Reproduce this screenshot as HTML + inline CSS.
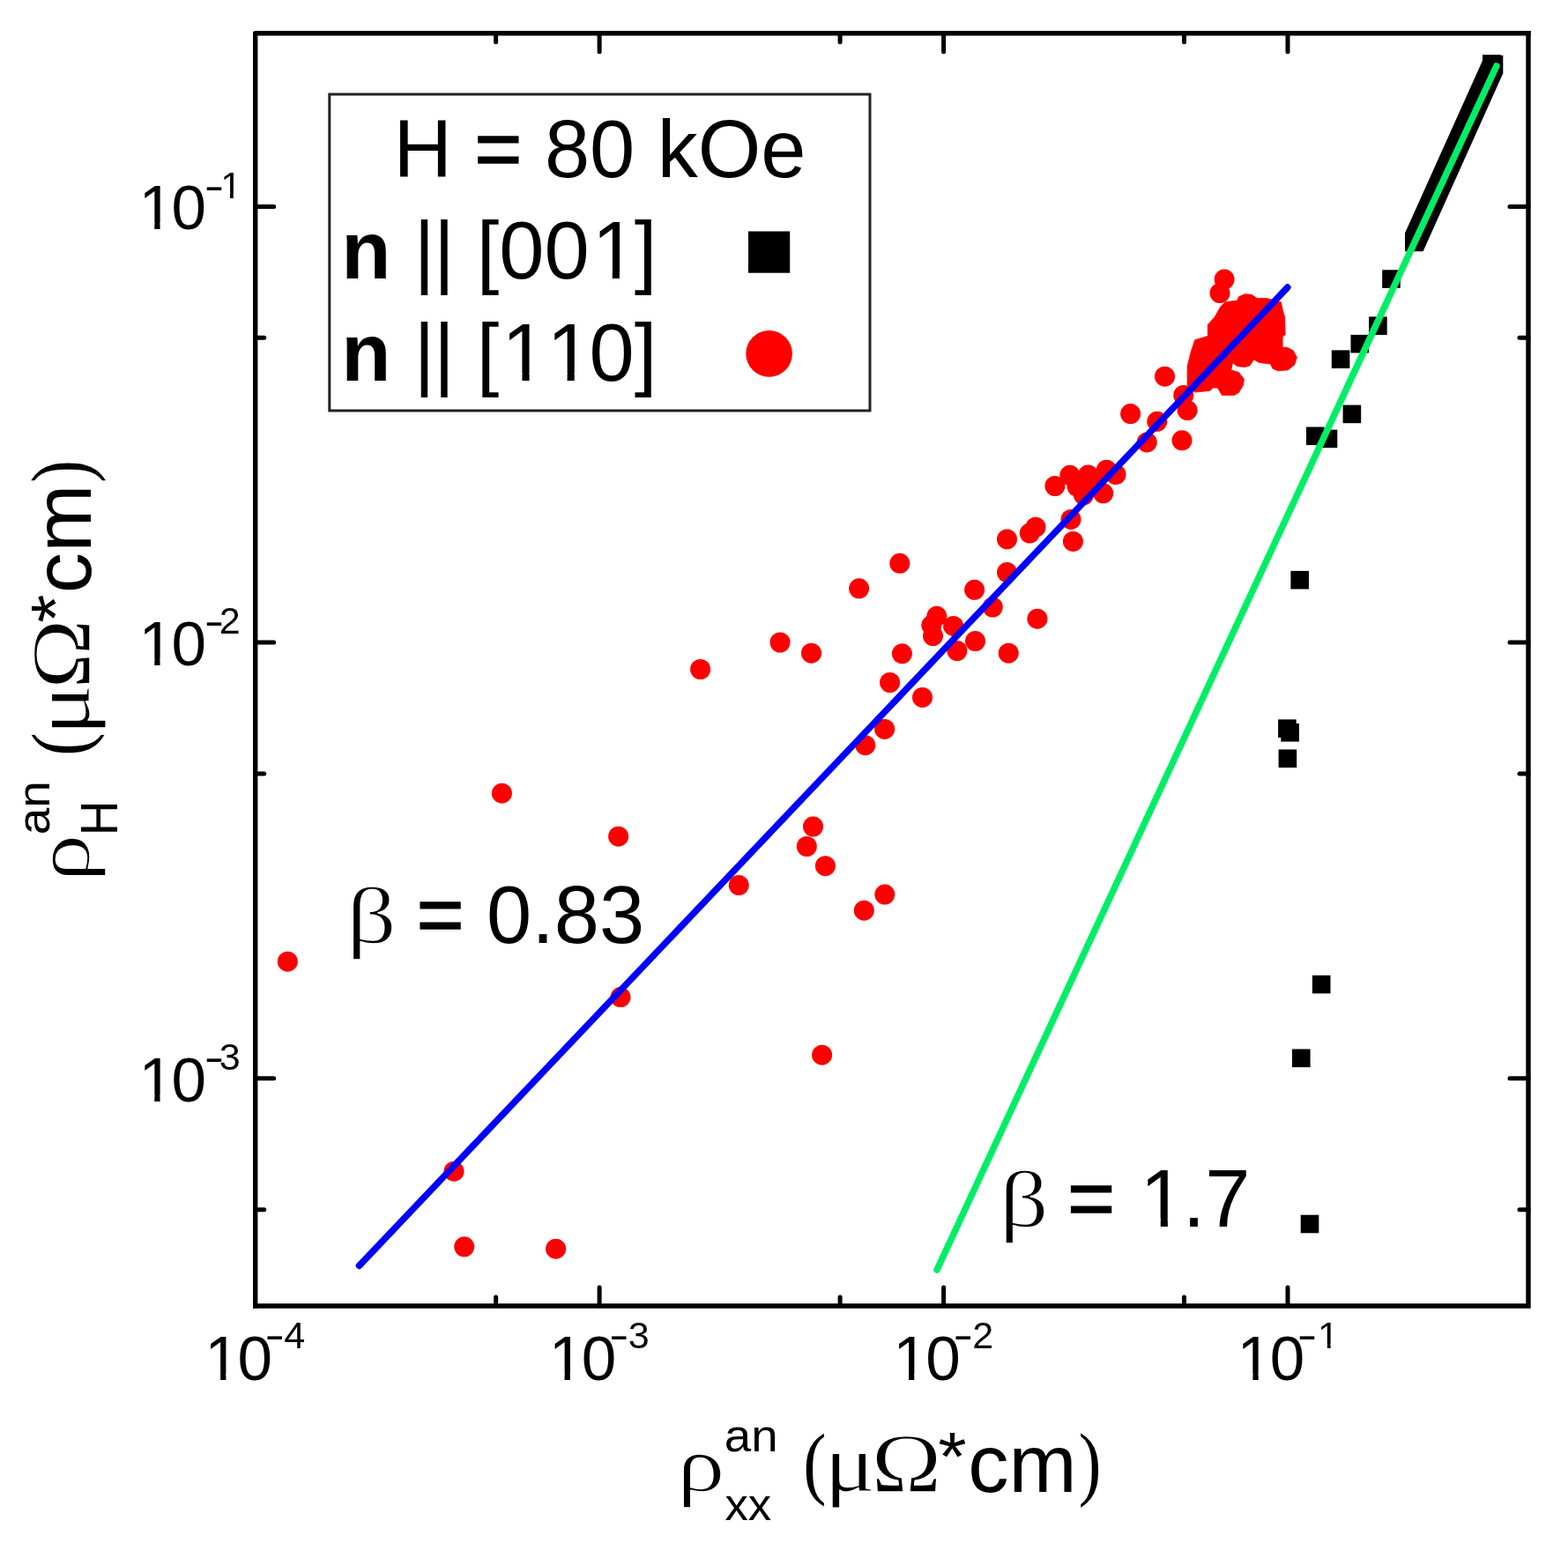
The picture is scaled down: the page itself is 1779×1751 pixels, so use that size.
<!DOCTYPE html><html><head><meta charset="utf-8"><title>Anomalous Hall resistivity vs longitudinal resistivity</title>
<style>html,body{margin:0;padding:0;background:#fff;overflow:hidden}svg{display:block}text{font-family:'Liberation Sans',Arial,sans-serif;fill:#000;font-kerning:none;font-feature-settings:'kern' 0}</style></head><body>
<svg xmlns="http://www.w3.org/2000/svg" width="1779" height="1751" viewBox="0 0 1779 1751">
<rect width="1779" height="1751" fill="#fff"/>
<g fill="#ff0000">
<circle cx="326.3" cy="1091.2" r="11.5"/>
<circle cx="515.0" cy="1329.2" r="11.5"/>
<circle cx="526.7" cy="1414.8" r="11.5"/>
<circle cx="630.6" cy="1417.2" r="11.5"/>
<circle cx="569.4" cy="900.2" r="11.5"/>
<circle cx="701.6" cy="949.2" r="11.5"/>
<circle cx="704.0" cy="1131.6" r="11.5"/>
<circle cx="794.6" cy="759.5" r="11.5"/>
<circle cx="885.0" cy="729.0" r="11.5"/>
<circle cx="920.5" cy="741.2" r="11.5"/>
<circle cx="922.5" cy="938.0" r="11.5"/>
<circle cx="915.3" cy="960.5" r="11.5"/>
<circle cx="936.4" cy="982.7" r="11.5"/>
<circle cx="838.2" cy="1004.6" r="11.5"/>
<circle cx="980.3" cy="1033.2" r="11.5"/>
<circle cx="1003.8" cy="1015.1" r="11.5"/>
<circle cx="932.6" cy="1197.2" r="11.5"/>
<circle cx="981.7" cy="845.7" r="11.5"/>
<circle cx="1003.6" cy="827.4" r="11.5"/>
<circle cx="1046.5" cy="791.4" r="11.5"/>
<circle cx="1009.6" cy="774.5" r="11.5"/>
<circle cx="974.6" cy="667.8" r="11.5"/>
<circle cx="1020.8" cy="639.3" r="11.5"/>
<circle cx="1105.6" cy="669.3" r="11.5"/>
<circle cx="1142.5" cy="649.6" r="11.5"/>
<circle cx="1142.5" cy="611.9" r="11.5"/>
<circle cx="1168.2" cy="605.1" r="11.5"/>
<circle cx="1175.0" cy="598.2" r="11.5"/>
<circle cx="1215.0" cy="589.4" r="11.5"/>
<circle cx="1217.4" cy="614.4" r="11.5"/>
<circle cx="1126.2" cy="689.0" r="11.5"/>
<circle cx="1176.9" cy="702.2" r="11.5"/>
<circle cx="1062.8" cy="699.3" r="11.5"/>
<circle cx="1056.8" cy="709.6" r="11.5"/>
<circle cx="1081.6" cy="710.4" r="11.5"/>
<circle cx="1058.5" cy="721.6" r="11.5"/>
<circle cx="1106.5" cy="727.6" r="11.5"/>
<circle cx="1085.9" cy="738.5" r="11.5"/>
<circle cx="1144.2" cy="741.2" r="11.5"/>
<circle cx="1023.4" cy="741.8" r="11.5"/>
<circle cx="1196.9" cy="551.5" r="11.5"/>
<circle cx="1213.8" cy="539.3" r="11.5"/>
<circle cx="1234.6" cy="539.0" r="11.5"/>
<circle cx="1255.4" cy="533.2" r="11.5"/>
<circle cx="1266.0" cy="538.5" r="11.5"/>
<circle cx="1251.7" cy="559.8" r="11.5"/>
<circle cx="1229.4" cy="561.8" r="11.5"/>
<circle cx="1222.0" cy="552.0" r="11.5"/>
<circle cx="1242.0" cy="548.0" r="11.5"/>
<circle cx="1282.6" cy="469.6" r="11.5"/>
<circle cx="1312.8" cy="478.3" r="11.5"/>
<circle cx="1301.2" cy="501.9" r="11.5"/>
<circle cx="1341.0" cy="499.8" r="11.5"/>
<circle cx="1347.1" cy="465.6" r="11.5"/>
<circle cx="1342.8" cy="448.5" r="11.5"/>
<circle cx="1321.5" cy="427.2" r="11.5"/>
<circle cx="1389.1" cy="317.1" r="11.5"/>
<circle cx="1384.0" cy="332.6" r="11.5"/>
<polygon points="1384.8,348.0 1390.0,342.8 1403.7,341.1 1405.4,336.8 1412.2,333.8 1420.0,334.3 1426.0,338.6 1437.1,338.6 1453.4,342.8 1455.1,351.4 1457.6,360.0 1458.1,379.7 1455.1,382.2 1455.1,394.2 1460.2,394.2 1467.1,397.7 1471.4,405.4 1468.8,413.9 1461.1,419.9 1449.9,420.8 1443.9,418.2 1441.4,413.1 1428.5,411.4 1422.5,407.9 1418.2,414.8 1412.2,416.5 1403.7,415.7 1398.5,411.4 1396.8,419.9 1405.4,422.5 1411.4,430.2 1410.5,437.1 1405.4,445.6 1400.2,448.5 1386.5,448.5 1381.4,440.0 1376.2,440.0 1372.8,443.4 1355.7,445.1 1347.1,437.1 1347.1,415.7 1351.4,398.5 1355.7,385.7 1370.3,381.4 1370.3,368.5 1378.0,360.0" stroke="#ff0000" stroke-width="0.8" stroke-linejoin="round"/>
</g>
<g fill="#000">
<rect x="1450.1" y="816.4" width="20.6" height="20.6"/>
<rect x="1453.3" y="821.0" width="20.6" height="20.6"/>
<rect x="1450.6" y="850.5" width="20.6" height="20.6"/>
<rect x="1464.4" y="647.9" width="20.6" height="20.6"/>
<rect x="1488.9" y="1106.8" width="20.6" height="20.6"/>
<rect x="1466.0" y="1190.5" width="20.6" height="20.6"/>
<rect x="1475.7" y="1378.7" width="20.6" height="20.6"/>
<rect x="1568.2" y="306.3" width="20.6" height="20.6"/>
<rect x="1553.1" y="359.4" width="20.6" height="20.6"/>
<rect x="1532.5" y="379.9" width="20.6" height="20.6"/>
<rect x="1510.8" y="397.4" width="20.6" height="20.6"/>
<rect x="1523.6" y="459.6" width="20.6" height="20.6"/>
<rect x="1482.0" y="484.5" width="20.6" height="20.6"/>
<rect x="1496.7" y="487.6" width="20.6" height="20.6"/>
<rect x="1682.0" y="62.2" width="20.6" height="20.6"/>
<polygon points="1594.0,285.2 1614.6,285.2 1705.3,83.3 1705.3,62.7 1684.7,62.7 1594.0,264.6"/>
</g>
<line x1="407.5" y1="1436.4" x2="1460.8" y2="326.1" stroke="#0000ff" stroke-width="7.5" stroke-linecap="round"/>
<line x1="1063.0" y1="1441.0" x2="1697.8" y2="75.0" stroke="#00ee66" stroke-width="7.5" stroke-linecap="round"/>
<g stroke="#000" fill="none">
<path d="M289.7 1482.0V37.8H1734.0" stroke-width="5.4" stroke-linejoin="round" stroke-linecap="square"/>
<path d="M1734.0 37.8V1482.0H289.7" stroke-width="5.4" stroke-linejoin="miter" stroke-linecap="square"/>
<path d="M680.1 1482.0V1461.0M680.1 37.8V58.8M1070.6 1482.0V1461.0M1070.6 37.8V58.8M1461.0 1482.0V1461.0M1461.0 37.8V58.8M562.6 1482.0V1472.0M562.6 37.8V47.8M953.1 1482.0V1472.0M953.1 37.8V47.8M1343.5 1482.0V1472.0M1343.5 37.8V47.8M289.7 234.4H310.7M1734.0 234.4H1713.0M289.7 729.1H310.7M1734.0 729.1H1713.0M289.7 1223.8H310.7M1734.0 1223.8H1713.0M289.7 383.3H299.7M1734.0 383.3H1724.0M289.7 878.0H299.7M1734.0 878.0H1724.0M289.7 1372.7H299.7M1734.0 1372.7H1724.0" stroke-width="5.0" stroke-linecap="round"/>
</g>
<text x="232.24" y="1566.00" font-size="71" clip-path="url(#c1_1)">1</text><text x="269.39" y="1566.00" font-size="71">0</text><text style="font-family:'Liberation Sans',Arial,sans-serif" font-size="43" transform="translate(300.50 1531.24) scale(1.5717 1.0716)">-</text><text x="322.30" y="1530.20" font-size="43">4</text>
<text x="622.69" y="1566.00" font-size="71" clip-path="url(#c1_2)">1</text><text x="659.84" y="1566.00" font-size="71">0</text><text style="font-family:'Liberation Sans',Arial,sans-serif" font-size="43" transform="translate(690.95 1531.24) scale(1.5717 1.0716)">-</text><text x="712.75" y="1530.20" font-size="43">3</text>
<text x="1013.14" y="1566.00" font-size="71" clip-path="url(#c1_3)">1</text><text x="1050.29" y="1566.00" font-size="71">0</text><text style="font-family:'Liberation Sans',Arial,sans-serif" font-size="43" transform="translate(1081.40 1531.24) scale(1.5717 1.0716)">-</text><text x="1103.20" y="1530.20" font-size="43">2</text>
<text x="1403.59" y="1566.00" font-size="71" clip-path="url(#c1_4)">1</text><text x="1440.74" y="1566.00" font-size="71">0</text><text style="font-family:'Liberation Sans',Arial,sans-serif" font-size="43" transform="translate(1471.85 1531.24) scale(1.5717 1.0716)">-</text><text x="1495.07" y="1530.20" font-size="43" clip-path="url(#c1_5)">1</text>
<text x="157.44" y="260.10" font-size="71" clip-path="url(#c1_6)">1</text><text x="194.59" y="260.10" font-size="71">0</text><text style="font-family:'Liberation Sans',Arial,sans-serif" font-size="43" transform="translate(231.80 226.64) scale(1.5717 1.0716)">-</text><text x="250.22" y="224.60" font-size="43" clip-path="url(#c1_7)">1</text>
<text x="157.44" y="754.80" font-size="71" clip-path="url(#c1_8)">1</text><text x="194.59" y="754.80" font-size="71">0</text><text style="font-family:'Liberation Sans',Arial,sans-serif" font-size="43" transform="translate(231.80 721.34) scale(1.5717 1.0716)">-</text><text x="248.80" y="719.30" font-size="43">2</text>
<text x="157.44" y="1249.50" font-size="71" clip-path="url(#c1_9)">1</text><text x="194.59" y="1249.50" font-size="71">0</text><text style="font-family:'Liberation Sans',Arial,sans-serif" font-size="43" transform="translate(231.80 1216.04) scale(1.5717 1.0716)">-</text><text x="248.80" y="1214.00" font-size="43">3</text>
<rect x="373.8" y="107.0" width="613.2" height="359.0" fill="none" stroke="#222" stroke-width="3.0"/>
<text x="446.60" y="201.00" font-size="92">H </text><text x="538.60" y="201.00" font-size="92" stroke="#000" stroke-width="1.66">=</text><text x="617.89" y="201.00" font-size="92">80 kOe</text>
<text x="387.30" y="316.30" font-size="92" font-weight="bold">n</text>
<text x="469.60" y="316.30" font-size="92">|</text>
<text x="492.00" y="316.30" font-size="92">|</text>
<text x="540.70" y="316.30" font-size="92">[00</text><text x="671.63" y="316.30" font-size="92" clip-path="url(#c1_10)">1</text><text x="719.76" y="316.30" font-size="92">]</text>
<text x="387.30" y="432.40" font-size="92" font-weight="bold">n</text>
<text x="469.60" y="432.40" font-size="92">|</text>
<text x="492.00" y="432.40" font-size="92">|</text>
<text x="540.70" y="432.40" font-size="92">[</text><text x="569.30" y="432.40" font-size="92" clip-path="url(#c1_11)">1</text><text x="620.46" y="432.40" font-size="92" clip-path="url(#c1_12)">1</text><text x="668.59" y="432.40" font-size="92">0]</text>
<rect x="849.0" y="262.5" width="47.2" height="47.2" fill="#000"/>
<circle cx="872.6" cy="401.4" r="26.3" fill="#ff0000"/>
<text style="font-family:'Liberation Serif','Times New Roman',serif" font-size="92" transform="translate(393.10 1069.92) scale(1.2145 0.9791)" stroke="#fff" stroke-width="1.60" vector-effect="non-scaling-stroke" stroke-linejoin="round">β</text>
<text x="472.70" y="1070.00" font-size="92" stroke="#000" stroke-width="1.66">=</text><text x="551.99" y="1070.00" font-size="92">0.83</text>
<text style="font-family:'Liberation Serif','Times New Roman',serif" font-size="92" transform="translate(1133.71 1391.92) scale(1.1955 0.9945)" stroke="#fff" stroke-width="1.60" vector-effect="non-scaling-stroke" stroke-linejoin="round">β</text>
<text x="1211.30" y="1391.50" font-size="92" stroke="#000" stroke-width="1.66">=</text><text x="1293.62" y="1391.50" font-size="92" clip-path="url(#c1_13)">1</text><text x="1341.75" y="1391.50" font-size="92">.7</text>
<g transform="translate(775.2 1691.8)"><text style="font-family:'Liberation Serif','Times New Roman',serif" font-size="92" transform="translate(-7.25 0.03) scale(1.1889 0.9736)" stroke="#fff" stroke-width="1.60" vector-effect="non-scaling-stroke" stroke-linejoin="round">ρ</text><text style="font-family:'Liberation Sans',Arial,sans-serif" font-size="92" transform="translate(46.57 -44.61) scale(0.5949 0.5674)">an</text><text style="font-family:'Liberation Sans',Arial,sans-serif" font-size="92" transform="translate(47.21 33.50) scale(0.5735 0.5658)">xx</text><text style="font-family:'Liberation Serif','Times New Roman',serif" font-size="92" transform="translate(135.94 -1.67) scale(0.8549 0.9890)">(</text><text style="font-family:'Liberation Serif','Times New Roman',serif" font-size="92" transform="translate(160.11 0.11) scale(1.1787 0.9806)" stroke="#fff" stroke-width="1.20" vector-effect="non-scaling-stroke" stroke-linejoin="round">μ</text><text style="font-family:'Liberation Serif','Times New Roman',serif" font-size="92" transform="translate(213.23 1.00) scale(1.1691 1.0457)" stroke="#fff" stroke-width="1.40" vector-effect="non-scaling-stroke" stroke-linejoin="round">Ω</text><text style="font-family:'Liberation Sans',Arial,sans-serif" font-size="92" transform="translate(288.96 -11.51) scale(0.9032 0.8514)">*</text><text style="font-family:'Liberation Sans',Arial,sans-serif" font-size="92" transform="translate(322.97 1.49) scale(1.0065 1.0099)">cm</text><text style="font-family:'Liberation Serif','Times New Roman',serif" font-size="92" transform="translate(448.62 -0.81) scale(0.8380 1.0165)">)</text></g>
<g transform="translate(101.1 993.8) rotate(-90)"><text style="font-family:'Liberation Serif','Times New Roman',serif" font-size="92" transform="translate(-7.25 0.03) scale(1.1889 0.9736)" stroke="#fff" stroke-width="1.60" vector-effect="non-scaling-stroke" stroke-linejoin="round">ρ</text><text style="font-family:'Liberation Sans',Arial,sans-serif" font-size="92" transform="translate(46.57 -44.61) scale(0.5949 0.5674)">an</text><text style="font-family:'Liberation Sans',Arial,sans-serif" font-size="92" transform="translate(45.49 31.90) scale(0.5974 0.6383)">H</text><text style="font-family:'Liberation Serif','Times New Roman',serif" font-size="92" transform="translate(135.94 -1.67) scale(0.8549 0.9890)">(</text><text style="font-family:'Liberation Serif','Times New Roman',serif" font-size="92" transform="translate(159.11 0.11) scale(1.1787 0.9806)" stroke="#fff" stroke-width="1.20" vector-effect="non-scaling-stroke" stroke-linejoin="round">μ</text><text style="font-family:'Liberation Serif','Times New Roman',serif" font-size="92" transform="translate(211.73 1.00) scale(1.1691 1.0457)" stroke="#fff" stroke-width="1.40" vector-effect="non-scaling-stroke" stroke-linejoin="round">Ω</text><text style="font-family:'Liberation Sans',Arial,sans-serif" font-size="92" transform="translate(286.96 -11.51) scale(0.9032 0.8514)">*</text><text style="font-family:'Liberation Sans',Arial,sans-serif" font-size="92" transform="translate(320.67 1.49) scale(1.0065 1.0099)">cm</text><text style="font-family:'Liberation Serif','Times New Roman',serif" font-size="92" transform="translate(446.12 -0.81) scale(0.8380 1.0165)">)</text></g>
<defs><clipPath id="c1_1" clipPathUnits="userSpaceOnUse"><rect x="161.24" y="1424.00" width="213.00" height="134.70"/><rect x="250.10" y="1424.00" width="6.27" height="213.00"/></clipPath><clipPath id="c1_2" clipPathUnits="userSpaceOnUse"><rect x="551.69" y="1424.00" width="213.00" height="134.70"/><rect x="640.55" y="1424.00" width="6.27" height="213.00"/></clipPath><clipPath id="c1_3" clipPathUnits="userSpaceOnUse"><rect x="942.14" y="1424.00" width="213.00" height="134.70"/><rect x="1031.00" y="1424.00" width="6.27" height="213.00"/></clipPath><clipPath id="c1_4" clipPathUnits="userSpaceOnUse"><rect x="1332.59" y="1424.00" width="213.00" height="134.70"/><rect x="1421.45" y="1424.00" width="6.27" height="213.00"/></clipPath><clipPath id="c1_5" clipPathUnits="userSpaceOnUse"><rect x="1452.07" y="1444.20" width="129.00" height="80.79"/><rect x="1505.88" y="1444.20" width="3.80" height="129.00"/></clipPath><clipPath id="c1_6" clipPathUnits="userSpaceOnUse"><rect x="86.44" y="118.10" width="213.00" height="134.70"/><rect x="175.30" y="118.10" width="6.27" height="213.00"/></clipPath><clipPath id="c1_7" clipPathUnits="userSpaceOnUse"><rect x="207.22" y="138.60" width="129.00" height="80.79"/><rect x="261.03" y="138.60" width="3.80" height="129.00"/></clipPath><clipPath id="c1_8" clipPathUnits="userSpaceOnUse"><rect x="86.44" y="612.80" width="213.00" height="134.70"/><rect x="175.30" y="612.80" width="6.27" height="213.00"/></clipPath><clipPath id="c1_9" clipPathUnits="userSpaceOnUse"><rect x="86.44" y="1107.50" width="213.00" height="134.70"/><rect x="175.30" y="1107.50" width="6.27" height="213.00"/></clipPath><clipPath id="c1_10" clipPathUnits="userSpaceOnUse"><rect x="579.63" y="132.30" width="276.00" height="175.13"/><rect x="694.76" y="132.30" width="8.13" height="276.00"/></clipPath><clipPath id="c1_11" clipPathUnits="userSpaceOnUse"><rect x="477.30" y="248.40" width="276.00" height="175.13"/><rect x="592.43" y="248.40" width="8.13" height="276.00"/></clipPath><clipPath id="c1_12" clipPathUnits="userSpaceOnUse"><rect x="528.46" y="248.40" width="276.00" height="175.13"/><rect x="643.60" y="248.40" width="8.13" height="276.00"/></clipPath><clipPath id="c1_13" clipPathUnits="userSpaceOnUse"><rect x="1201.62" y="1207.50" width="276.00" height="175.13"/><rect x="1316.76" y="1207.50" width="8.13" height="276.00"/></clipPath></defs>
</svg></body></html>
